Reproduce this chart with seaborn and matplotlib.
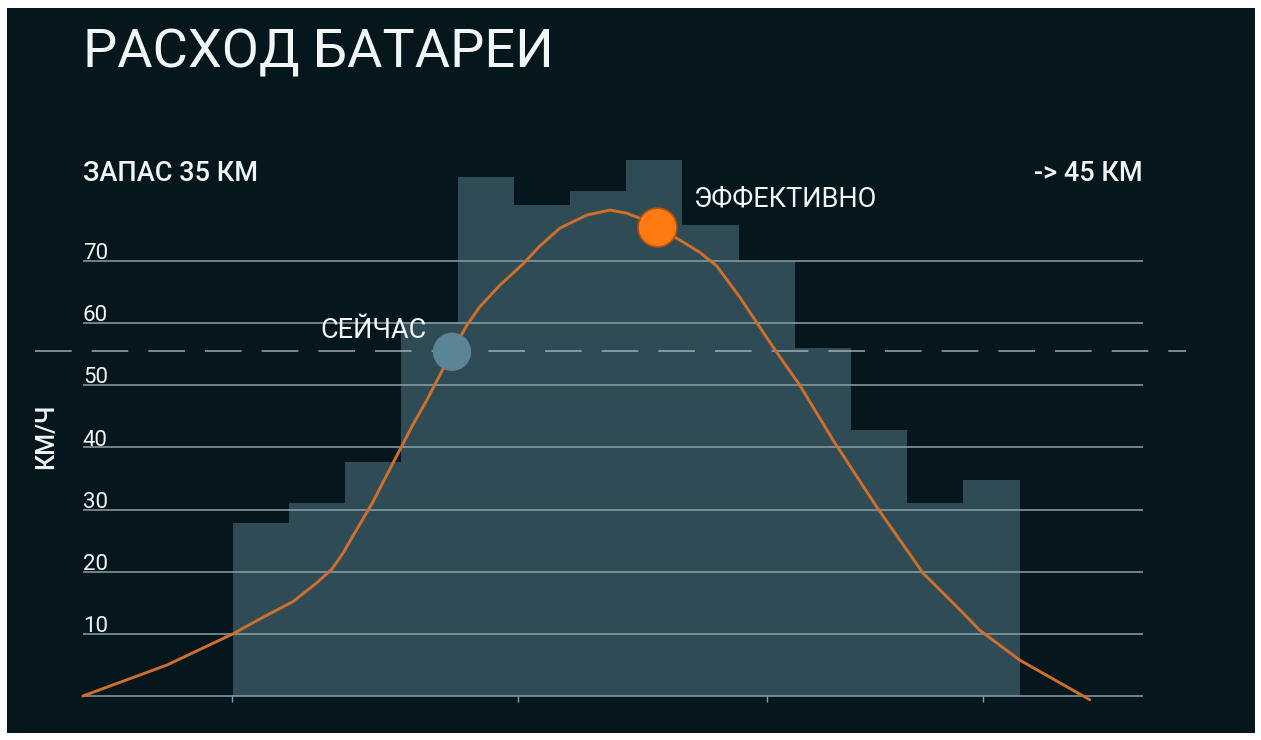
import matplotlib
matplotlib.use("Agg")
import matplotlib.pyplot as plt
import seaborn as sns
import pandas as pd

# данные
bar_pos = list(range(14))
bar_values = [27.8, 31, 37.7, 60.2, 83.6, 79, 81.2, 86.3, 75.8, 70, 56, 42.8, 31, 34.8]

curve_x = [-3.17, -1.67, -0.50, -0.02, 0.57, 0.99, 1.26, 1.46, 1.71, 1.99,
           2.47, 2.70, 2.95, 3.40, 3.66, 3.89, 4.25, 4.66, 4.96, 5.32,
           5.80, 6.21, 6.51, 6.74, 7.04, 7.45, 7.81, 8.11, 8.52, 9.14,
           9.59, 10.18, 10.96, 11.78, 12.49, 12.79, 13.50, 14.75]
curve_y = [0, 5, 10, 12.4, 15.2, 18.2, 20.4, 23.0, 26.9, 31.2,
           39.6, 43.6, 47.6, 55.4, 59.6, 62.6, 66.1, 69.5, 72.4, 75.3,
           77.4, 78.2, 77.7, 76.9, 75.5, 73.4, 71.4, 69.2, 64.2, 55.8,
           50.0, 41.2, 30.4, 19.8, 13.4, 10.6, 5.8, -0.6]

now_x, now_y = 3.40, 55.4
eff_x, eff_y = 7.04, 75.5
current_speed = 55.6

y_ticks = [10, 20, 30, 40, 50, 60, 70]
grid_levels = [0] + y_ticks
x_ticks = [-0.52, 4.57, 9.0, 12.85]

title = "РАСХОД БАТАРЕИ"
left_label = "ЗАПАС 35 КМ"
right_label = "-> 45 КМ"
y_label = "КМ/Ч"

# стиль
sns.set_style("dark")
plt.rcParams['font.family'] = ['Roboto', 'DejaVu Sans']

bg = '#05161d'
bar_color = '#2f4c56'
grid_color = '#8aa0a8'
text_color = '#f2f5f6'

fig = plt.figure(figsize=(12.61, 7.40), dpi=100, facecolor='white')
ax = fig.add_axes([7 / 1261, 7 / 740, 1248 / 1261, 725 / 740])
ax.set_facecolor(bg)

df_bars = pd.DataFrame({'pos': bar_pos, 'value': bar_values})
sns.barplot(ax=ax, data=df_bars, x='pos', y='value', color=bar_color,
            saturation=1, width=1, linewidth=0, zorder=1)

# сетка
x_left, x_right = -3.17, 15.69
ax.hlines(grid_levels, x_left, x_right, color=grid_color, lw=1.1, zorder=2)
ax.vlines(x_ticks, -0.9, 0, color=grid_color, lw=1, zorder=2)
for t in y_ticks:
    ax.text(x_left, t + 0.3, str(t), color=text_color, fontsize=16,
            ha='left', va='baseline', zorder=5)

# пунктир текущей скорости
ax.plot([-4.02, 16.47], [current_speed, current_speed], color='#a9b6bb',
        lw=1.2, dashes=(22, 12), alpha=0.85, zorder=2)

# кривая
sns.lineplot(ax=ax, x=curve_x, y=curve_y, sort=False, color='#d06e2c',
             lw=2.1, zorder=3)

sns.scatterplot(ax=ax, x=[now_x], y=[now_y], s=760, color='#5b8494',
                edgecolor='none', zorder=4)
sns.scatterplot(ax=ax, x=[eff_x], y=[eff_y], s=780, color='#ff7a12',
                edgecolor='#b65012', linewidth=1.2, zorder=4)

# подписи
ax.text(x_left, 101.1, title, color=text_color, fontsize=39,
        ha='left', va='baseline')
ax.text(x_left, 82.9, left_label, color=text_color, fontsize=19.5,
        fontweight='medium', ha='left', va='baseline')
ax.text(x_right, 82.9, right_label, color=text_color, fontsize=19.5,
        fontweight='medium', ha='right', va='baseline')
ax.text(7.68, 78.85, "ЭФФЕКТИВНО", color=text_color, fontsize=19.5,
        ha='left', va='baseline', zorder=5)
ax.text(1.05, 57.6, "СЕЙЧАС", color=text_color, fontsize=19.5,
        ha='left', va='baseline', zorder=5)
ax.text(-3.83, 41.8, y_label, color=text_color, fontsize=18,
        fontweight='medium', rotation=90, ha='center', va='center')

ax.set_xlim(-4.52, 17.69)
ax.set_ylim(-5.95, 110.72)
ax.set_xticks([])
ax.set_yticks([])
ax.set_xlabel('')
ax.set_ylabel('')
for s in ax.spines.values():
    s.set_visible(False)

fig.savefig('out.png', dpi=100, facecolor='white')
